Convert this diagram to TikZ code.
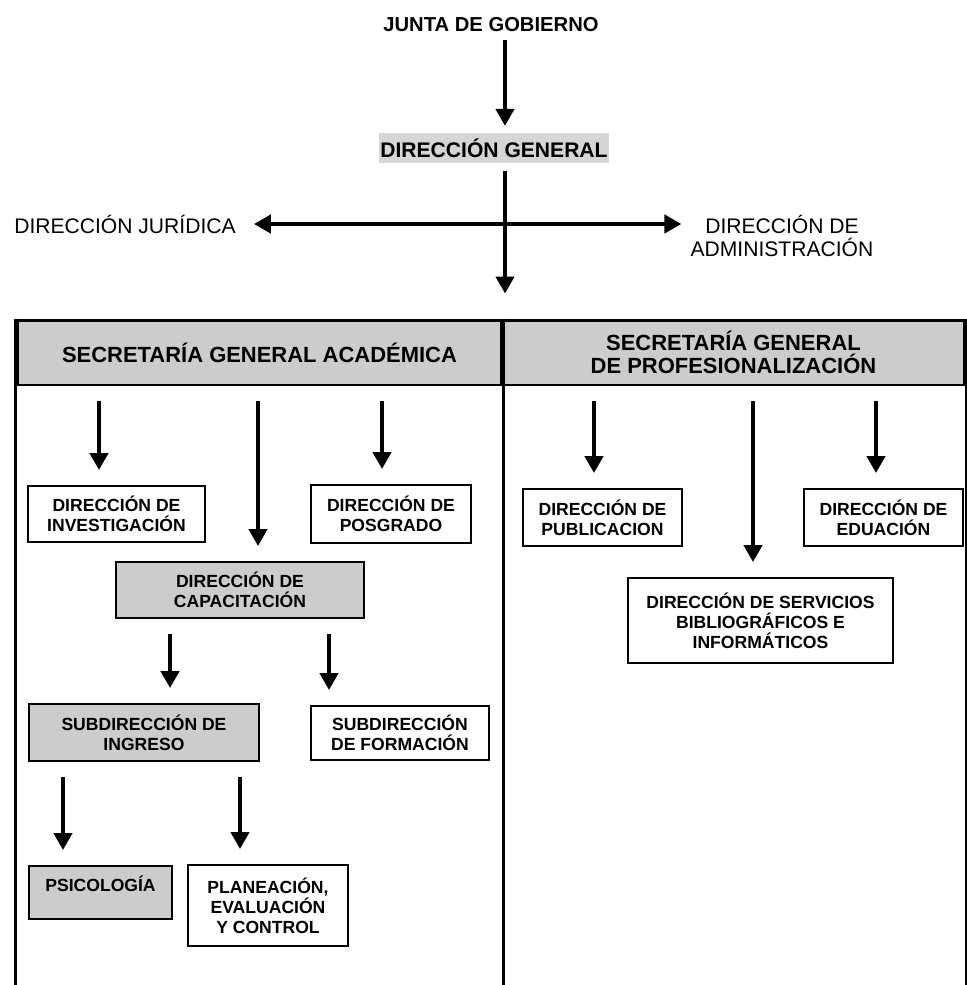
\documentclass[tikz,border=0pt]{standalone}
\usepackage{fontspec}
\setmainfont{Liberation Sans}
\usetikzlibrary{arrows.meta}
\definecolor{gris}{RGB}{204,204,204}
\definecolor{grisdg}{RGB}{214,214,214}
\tikzset{
	caja/.style={draw, line width=1.1pt, align=center, inner sep=0pt, font=\fontsize{10}{11.5}\selectfont\bfseries},
	cajagris/.style={caja, fill=gris},
	cabecera/.style={draw, line width=1.7pt, fill=gris, align=center, inner sep=0pt, minimum height=1.3cm, font=\fontsize{12.5}{13}\selectfont\bfseries},
	marco/.style={line width=1.7pt},
	punta/.tip={Triangle[width=0.36cm,length=0.34cm]},
	flecha/.style={line width=2.8pt, -punta, shorten <=0.3cm, shorten >=0.3cm},
}

\begin{document}
\begin{tikzpicture}[x=0.02cm, y=-0.02cm]
	\useasboundingbox (0,0) rectangle (967,985);

	% parte superior
	\node[font=\fontsize{11.5}{13}\selectfont\bfseries] (junta) at (491,25) {JUNTA DE GOBIERNO};
	\node[fill=grisdg, inner xsep=1pt, inner ysep=3pt, font=\fontsize{12}{14}\selectfont\bfseries] (dg) at (494,148) {DIRECCIÓN GENERAL};
	\node[font=\fontsize{12}{14}\selectfont] (jur) at (125,224) {DIRECCIÓN JURÍDICA};
	\node[align=center, font=\fontsize{12}{13.6}\selectfont] (adm) at (782,236) {DIRECCIÓN DE\\ADMINISTRACIÓN};

	% secretarias
	\node[cabecera, minimum width=9.7cm] (acad) at (259.5,352.5) {SECRETARÍA GENERAL ACADÉMICA};
	\node[cabecera, minimum width=9.26cm] (prof) at (733.5,352.5) {SECRETARÍA GENERAL\\DE PROFESIONALIZACIÓN};
	\coordinate (fondo) at (0,985);
	\draw[marco] (acad.north west) -- (acad.north west |- fondo);
	\draw[marco] (acad.north east) -- (acad.north east |- fondo);
	\draw[marco] (prof.north east) -- (prof.north east |- fondo);

	% cajas
	\node[caja, minimum width=3.54cm, minimum height=1.12cm] (inv) at (116.5,514) {DIRECCIÓN DE\\INVESTIGACIÓN};
	\node[caja, minimum width=3.2cm, minimum height=1.16cm] (pos) at (391,514) {DIRECCIÓN DE\\POSGRADO};
	\node[cajagris, minimum width=4.96cm, minimum height=1.12cm] (cap) at (240,590) {DIRECCIÓN DE\\CAPACITACIÓN};
	\node[cajagris, minimum width=4.6cm, minimum height=1.14cm] (ing) at (144,732.5) {SUBDIRECCIÓN DE\\INGRESO};
	\node[caja, minimum width=3.56cm, minimum height=1.08cm] (for) at (400,733) {SUBDIRECCIÓN\\DE FORMACIÓN};
	\node[cajagris, minimum width=2.86cm, minimum height=1.06cm, text height=0.35cm, text depth=0.4cm] (psi) at (100.5,892.5) {PSICOLOGÍA};
	\node[caja, minimum width=3.2cm, minimum height=1.62cm] (pla) at (268,905.5) {PLANEACIÓN,\\EVALUACIÓN\\Y CONTROL};
	\node[caja, minimum width=3.18cm, minimum height=1.14cm] (pub) at (602.5,517.5) {DIRECCIÓN DE\\PUBLICACION};
	\node[caja, minimum width=3.18cm, minimum height=1.14cm] (edu) at (883.5,517.5) {DIRECCIÓN DE\\EDUACIÓN};
	\node[caja, minimum width=5.3cm, minimum height=1.7cm] (ser) at (760.5,620.5) {DIRECCIÓN DE SERVICIOS\\BIBLIOGRÁFICOS E\\INFORMÁTICOS};

	% columnas de las flechas
	\coordinate (eje) at (505,0);
	\coordinate (c1) at (99,0);
	\coordinate (c2) at (258,0);
	\coordinate (c3) at (382,0);
	\coordinate (c4) at (170,0);
	\coordinate (c5) at (329,0);
	\coordinate (c6) at (63,0);
	\coordinate (c7) at (240,0);
	\coordinate (d1) at (594,0);
	\coordinate (d2) at (753,0);
	\coordinate (d3) at (876,0);

	% flechas
	\draw[flecha, shorten <=1pt, shorten >=0.14cm] (eje |- junta.south) -- (eje |- dg.north);
	\draw[flecha, shorten <=0.16cm, shorten >=0.5cm] (eje |- dg.south) -- (eje |- acad.north);
	\draw[line width=2.8pt, punta-punta, shorten <=0.24cm, shorten >=0.06cm] (jur.east) -- (jur.east -| adm.west);

	\draw[flecha] (acad.south -| c1) -- (inv.north -| c1);
	\draw[flecha] (acad.south -| c2) -- (cap.north -| c2);
	\draw[flecha] (acad.south -| c3) -- (pos.north -| c3);
	\draw[flecha] (cap.south -| c4) -- (ing.north -| c4);
	\draw[flecha] (cap.south -| c5) -- (for.north -| c5);
	\draw[flecha] (ing.south -| c6) -- (psi.north -| c6);
	\draw[flecha] (ing.south -| c7) -- (pla.north -| c7);
	\draw[flecha] (prof.south -| d1) -- (pub.north -| d1);
	\draw[flecha] (prof.south -| d2) -- (ser.north -| d2);
	\draw[flecha] (prof.south -| d3) -- (edu.north -| d3);
\end{tikzpicture}
\end{document}
